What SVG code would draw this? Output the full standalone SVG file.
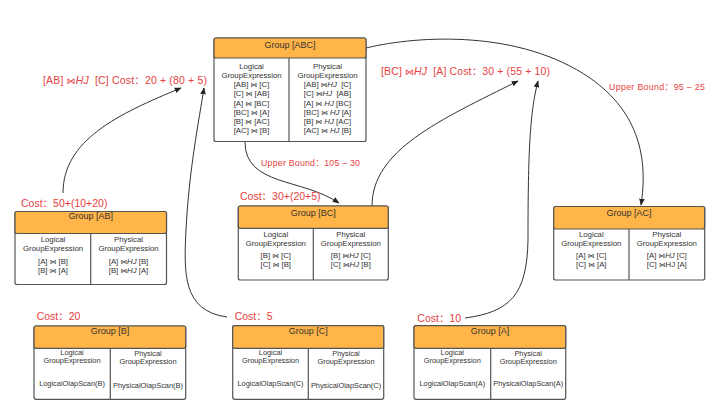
<svg xmlns="http://www.w3.org/2000/svg" width="720" height="411" viewBox="0 0 720 411">
<defs>
<marker id="arr" viewBox="0 0 10 10" refX="9" refY="5" markerWidth="7" markerHeight="7" orient="auto" markerUnits="userSpaceOnUse">
<path d="M0,1 L10,5 L0,9 z" fill="#222"/>
</marker>
<style>
text{font-family:"Liberation Sans","DejaVu Sans","Noto Sans CJK SC",sans-serif;}
.box{fill:#fff;stroke:#555;stroke-width:1.2;}
.hdr{fill:#FFB547;stroke:#555;stroke-width:1.2;}
.div{stroke:#555;stroke-width:1.2;}
.ht{font-size:9px;fill:#333;text-anchor:middle;}
.bt{font-size:7.8px;fill:#333;text-anchor:middle;}
.st{font-size:7.4px;fill:#333;text-anchor:middle;}
.red{fill:#E8413E;font-size:10.5px;}
.cost{fill:#E8413E;font-size:10.5px;}
.ub{fill:#E8413E;font-size:8.8px;}
.j{font-family:"DejaVu Sans",sans-serif;font-size:0.85em;}
.hj{font-style:italic;}
.con{fill:none;stroke:#333;stroke-width:1;marker-end:url(#arr);}
</style>
</defs>
<rect width="720" height="411" fill="#fff"/>

<g id="connectors">
<path class="con" d="M63,193 C63,140 118,114 181,88"/>
<path class="con" d="M227,317 C182,311 184,272 186,230 C189,170 199,120 204,88"/>
<path class="con" d="M245,142 C245,186 302,178 339,203"/>
<path class="con" d="M372,206 C372,150 440,120 518,81"/>
<path class="con" d="M465,318 C510,312 527,295 528,240 C528,150 530,112 538,81"/>
<path class="con" d="M366,48 C420,35 520,30 590,78 C640,113 648,160 641,205"/>
</g>

<g id="labels">
<text class="red" x="43" y="84" xml:space="preserve" textLength="164" lengthAdjust="spacing">[AB] <tspan class="j">⋈</tspan><tspan class="hj">HJ</tspan>  [C] Cost：20 + (80 + 5)</text>
<text class="red" x="381" y="75" xml:space="preserve" textLength="169" lengthAdjust="spacing">[BC] <tspan class="j">⋈</tspan><tspan class="hj">HJ</tspan>  [A] Cost：30 + (55 + 10)</text>
<text class="ub" x="609" y="90" textLength="96" lengthAdjust="spacing">Upper Bound：95 – 25</text>
<text class="ub" x="261" y="166" textLength="99" lengthAdjust="spacing">Upper Bound：105 – 30</text>
</g>

<g id="group-abc">
<rect class="box" x="214" y="38" width="152" height="103.5" rx="2"/>
<rect class="hdr" x="214" y="38" width="152" height="20" rx="2"/>
<line class="div" x1="289" y1="58" x2="289" y2="141.5"/>
<text class="ht" x="290" y="48.2">Group [ABC]</text>
<text class="bt" x="251.5" y="68.5">Logical</text>
<text class="bt" x="251.5" y="77.8">GroupExpression</text>
<text class="bt" x="251.5" y="87">[AB] <tspan class="j">⋈</tspan> [C]</text>
<text class="bt" x="251.5" y="96.3">[C] <tspan class="j">⋈</tspan> [AB]</text>
<text class="bt" x="251.5" y="105.5">[A] <tspan class="j">⋈</tspan> [BC]</text>
<text class="bt" x="251.5" y="114.8">[BC] <tspan class="j">⋈</tspan> [A]</text>
<text class="bt" x="251.5" y="124">[B] <tspan class="j">⋈</tspan> [AC]</text>
<text class="bt" x="251.5" y="133.2">[AC] <tspan class="j">⋈</tspan> [B]</text>
<text class="bt" x="327.5" y="68.5">Physical</text>
<text class="bt" x="327.5" y="77.8">GroupExpression</text>
<text class="bt" x="327.5" y="87" xml:space="preserve">[AB] <tspan class="j">⋈</tspan><tspan class="hj">HJ</tspan>  [C]</text>
<text class="bt" x="327.5" y="96.3" xml:space="preserve">[C] <tspan class="j">⋈</tspan><tspan class="hj">HJ</tspan>  [AB]</text>
<text class="bt" x="327.5" y="105.5">[A] <tspan class="j">⋈</tspan> <tspan class="hj">HJ</tspan> [BC]</text>
<text class="bt" x="327.5" y="114.8">[BC] <tspan class="j">⋈</tspan> <tspan class="hj">HJ</tspan> [A]</text>
<text class="bt" x="327.5" y="124">[B] <tspan class="j">⋈</tspan> <tspan class="hj">HJ</tspan> [AC]</text>
<text class="bt" x="327.5" y="133.2">[AC] <tspan class="j">⋈</tspan> <tspan class="hj">HJ</tspan> [B]</text>
</g>

<g id="group-ab">
<text class="cost" x="21" y="207">Cost：50+(10+20)</text>
<rect class="box" x="15" y="211.5" width="151.5" height="73" rx="2"/>
<rect class="hdr" x="15" y="211.5" width="151.5" height="22" rx="2"/>
<line class="div" x1="90.7" y1="233.5" x2="90.7" y2="284.5"/>
<text class="ht" x="90.7" y="219.3">Group [AB]</text>
<text class="bt" x="53" y="241.8">Logical</text>
<text class="bt" x="53" y="251">GroupExpression</text>
<text class="bt" x="53" y="263.5">[A] <tspan class="j">⋈</tspan> [B]</text>
<text class="bt" x="53" y="272.8">[B] <tspan class="j">⋈</tspan> [A]</text>
<text class="bt" x="128.5" y="241.8">Physical</text>
<text class="bt" x="128.5" y="251">GroupExpression</text>
<text class="bt" x="128.5" y="263.5">[A] <tspan class="j">⋈</tspan><tspan class="hj">HJ</tspan> [B]</text>
<text class="bt" x="128.5" y="272.8">[B] <tspan class="j">⋈</tspan><tspan class="hj">HJ</tspan> [A]</text>
</g>

<g id="group-bc">
<text class="cost" x="240" y="200">Cost：30+(20+5)</text>
<rect class="box" x="238.3" y="206" width="150" height="74" rx="2"/>
<rect class="hdr" x="238.3" y="206" width="150" height="22.3" rx="2"/>
<line class="div" x1="313.3" y1="228.3" x2="313.3" y2="280"/>
<text class="ht" x="313.3" y="215.5">Group [BC]</text>
<text class="bt" x="275.8" y="236.5">Logical</text>
<text class="bt" x="275.8" y="245.8">GroupExpression</text>
<text class="bt" x="275.8" y="257.8">[B] <tspan class="j">⋈</tspan> [C]</text>
<text class="bt" x="275.8" y="266.8">[C] <tspan class="j">⋈</tspan> [B]</text>
<text class="bt" x="350.8" y="236.5">Physical</text>
<text class="bt" x="350.8" y="245.8">GroupExpression</text>
<text class="bt" x="350.8" y="257.8">[B] <tspan class="j">⋈</tspan><tspan class="hj">HJ</tspan> [C]</text>
<text class="bt" x="350.8" y="266.8">[C] <tspan class="j">⋈</tspan><tspan class="hj">HJ</tspan> [B]</text>
</g>

<g id="group-ac">
<rect class="box" x="553.7" y="206.5" width="151" height="73.5" rx="2"/>
<rect class="hdr" x="553.7" y="206.5" width="151" height="22.5" rx="2"/>
<line class="div" x1="629" y1="229" x2="629" y2="280"/>
<text class="ht" x="629" y="216">Group [AC]</text>
<text class="bt" x="591.3" y="236.5">Logical</text>
<text class="bt" x="591.3" y="245.5">GroupExpression</text>
<text class="bt" x="591.3" y="257.8">[A] <tspan class="j">⋈</tspan> [C]</text>
<text class="bt" x="591.3" y="266.8">[C] <tspan class="j">⋈</tspan> [A]</text>
<text class="bt" x="666.8" y="236.5">Physical</text>
<text class="bt" x="666.8" y="245.5">GroupExpression</text>
<text class="bt" x="666.8" y="257.8">[A] <tspan class="j">⋈</tspan><tspan class="hj">HJ</tspan> [C]</text>
<text class="bt" x="666.8" y="266.8">[C] <tspan class="j">⋈</tspan>HJ [A]</text>
</g>

<g id="group-b">
<text class="cost" x="36.7" y="320">Cost：20</text>
<rect class="box" x="34" y="326" width="151.7" height="73.3" rx="2"/>
<rect class="hdr" x="34" y="326" width="151.7" height="22.3" rx="2"/>
<line class="div" x1="110.3" y1="348.3" x2="110.3" y2="399.3"/>
<text class="ht" x="110" y="334.3">Group [B]</text>
<text class="st" x="72" y="355.4">Logical</text>
<text class="st" x="72" y="363.4">GroupExpression</text>
<text class="st" x="72" y="385.7">LogicalOlapScan(B)</text>
<text class="st" x="148" y="356">Physical</text>
<text class="st" x="148" y="363.7">GroupExpression</text>
<text class="st" x="148" y="387.7">PhysicalOlapScan(B)</text>
</g>

<g id="group-c">
<text class="cost" x="234.7" y="320">Cost：5</text>
<rect class="box" x="232.7" y="325.7" width="151" height="73.6" rx="2"/>
<rect class="hdr" x="232.7" y="325.7" width="151" height="22.6" rx="2"/>
<line class="div" x1="308.3" y1="348.3" x2="308.3" y2="399.3"/>
<text class="ht" x="308.3" y="334.3">Group [C]</text>
<text class="st" x="270.5" y="355.4">Logical</text>
<text class="st" x="270.5" y="363.4">GroupExpression</text>
<text class="st" x="270.5" y="385.7">LogicalOlapScan(C)</text>
<text class="st" x="346" y="356">Physical</text>
<text class="st" x="346" y="363.7">GroupExpression</text>
<text class="st" x="346" y="387.7">PhysicalOlapScan(C)</text>
</g>

<g id="group-a">
<text class="cost" x="417.3" y="321.5">Cost：10</text>
<rect class="box" x="414" y="325.7" width="151.7" height="73.6" rx="2"/>
<rect class="hdr" x="414" y="325.7" width="151.7" height="22.6" rx="2"/>
<line class="div" x1="490.7" y1="348.3" x2="490.7" y2="399.3"/>
<text class="ht" x="490" y="334.3">Group [A]</text>
<text class="st" x="452.3" y="355.4">Logical</text>
<text class="st" x="452.3" y="363.4">GroupExpression</text>
<text class="st" x="452.3" y="385.7">LogicalOlapScan(A)</text>
<text class="st" x="528.2" y="356">Physical</text>
<text class="st" x="528.2" y="363.7">GroupExpression</text>
<text class="st" x="528.2" y="385.7">PhysicalOlapScan(A)</text>
</g>
</svg>
